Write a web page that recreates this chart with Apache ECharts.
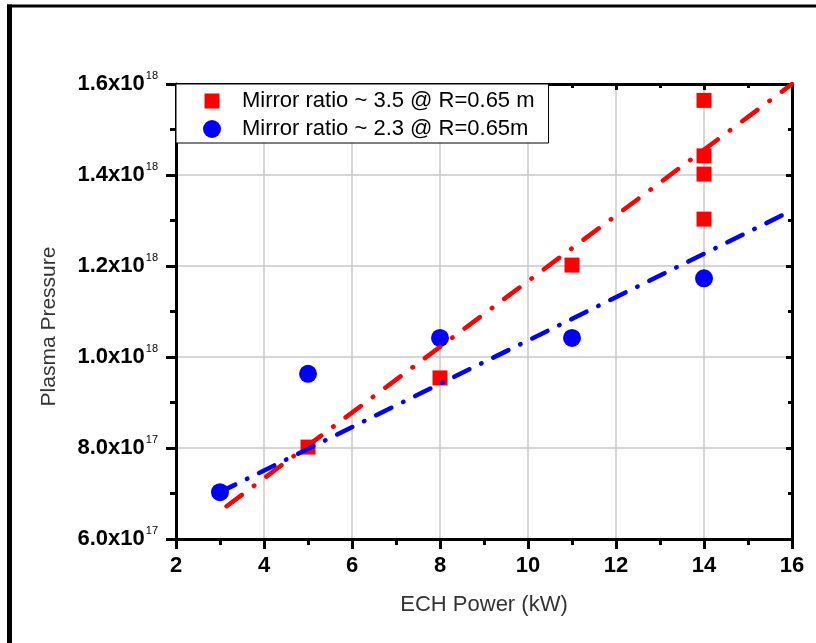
<!DOCTYPE html>
<html>
<head>
<meta charset="utf-8">
<title>Plasma Pressure vs ECH Power</title>
<script src="https://cdn.jsdelivr.net/npm/echarts@6.0.0/dist/echarts.min.js"></script>
<style>
  html, body { margin: 0; padding: 0; background: #fff; }
  #chart { width: 816px; height: 643px; }
</style>
</head>
<body>
<div id="chart"></div>
<script>
// measured points
var powerRed = [5, 8, 11, 14, 14, 14, 14];
var pressureRed = [0.802e18, 0.954e18, 1.202e18, 1.303e18, 1.402e18, 1.442e18, 1.564e18];
var powerBlue = [3, 5, 8, 11, 14];
var pressureBlue = [0.703e18, 0.963e18, 1.042e18, 1.042e18, 1.173e18];

// linear fits (end points as drawn)
var fitRedX = [3.15, 16];
var fitRedY = [0.672e18, 1.6e18];
var fitBlueX = [3, 16];
var fitBlueY = [0.703e18, 1.322e18];

var nameRed = 'Mirror ratio ~ 3.5 @ R=0.65 m';
var nameBlue = 'Mirror ratio ~ 2.3 @ R=0.65m';

var xTicks = { min: 2, max: 16, step: 2 };
var yTicks = { min: 6e17, max: 1.6e18, step: 2e17 };

var FONT = '"Liberation Sans", Arial, sans-serif';

function pairs(xs, ys) {
    var out = [];
    for (var i = 0; i < xs.length; i++) out.push([xs[i], ys[i]]);
    return out;
}

function sci(v) {
    var e = Math.floor(Math.log10(v) + 1e-9);
    var m = v / Math.pow(10, e);
    return '{b|' + m.toFixed(1) + 'x10}{s|' + e + '}';
}

var chart = echarts.init(document.getElementById('chart'));

var option = {
    backgroundColor: '#fff',
    animation: false,
    grid: { left: 176, right: 24, top: 84, bottom: 104 },
    legend: {
        orient: 'vertical',
        left: 176,
        top: 84,
        padding: [6, 14, 3, 27],
        itemGap: 6,
        itemWidth: 50,
        itemHeight: 18,
        backgroundColor: '#fff',
        borderColor: '#000',
        borderWidth: 1,
        z: 5,
        textStyle: { fontFamily: FONT, fontSize: 22, color: '#000' },
        data: [
            { name: nameRed, icon: 'path://M0,0L0,0ZM1.5,1.5L16.5,1.5L16.5,16.5L1.5,16.5ZM18,18L18,18Z' },
            { name: nameBlue, icon: 'circle' }
        ]
    },
    xAxis: [{
        type: 'value',
        position: 'bottom',
        min: xTicks.min, max: xTicks.max, interval: xTicks.step,
        name: 'ECH Power (kW)',
        nameLocation: 'middle',
        nameGap: 55,
        nameTextStyle: { fontFamily: FONT, fontSize: 22, color: '#333' },
        axisLine: { onZero: false, lineStyle: { color: '#000', width: 3 } },
        axisTick: { inside: false, length: 10, lineStyle: { color: '#000', width: 3 } },
        minorTick: { show: true, splitNumber: 2, length: 6, lineStyle: { color: '#000', width: 3 } },
        axisLabel: { margin: 16, fontFamily: FONT, fontSize: 22, fontWeight: 'bold', color: '#000' },
        splitLine: { show: true, lineStyle: { color: '#c8c8c8', width: 1.5 } }
    }, {
        type: 'value',
        position: 'top',
        min: xTicks.min, max: xTicks.max, interval: xTicks.step,
        axisLine: { onZero: false, lineStyle: { color: '#000', width: 3 } },
        axisTick: { inside: true, length: 6, lineStyle: { color: '#000', width: 3 } },
        minorTick: { show: true, splitNumber: 2, length: 4, lineStyle: { color: '#000', width: 3 } },
        axisLabel: { show: false },
        splitLine: { show: false }
    }],
    yAxis: [{
        type: 'value',
        position: 'left',
        min: yTicks.min, max: yTicks.max, interval: yTicks.step,
        name: 'Plasma Pressure',
        nameLocation: 'middle',
        nameGap: 116,
        nameTextStyle: { fontFamily: FONT, fontSize: 21, color: '#333', padding: [0, 30, 0, 0] },
        axisLine: { onZero: false, lineStyle: { color: '#000', width: 3 } },
        axisTick: { inside: false, length: 10, lineStyle: { color: '#000', width: 3 } },
        minorTick: { show: true, splitNumber: 2, length: 6, lineStyle: { color: '#000', width: 3 } },
        axisLabel: {
            margin: 18,
            formatter: sci,
            rich: {
                b: { fontFamily: FONT, fontSize: 22, fontWeight: 'bold', color: '#000', lineHeight: 22 },
                s: { fontFamily: FONT, fontSize: 11, color: '#000', lineHeight: 11, padding: [0, 0, 17, 1] }
            }
        },
        splitLine: { show: true, lineStyle: { color: '#c8c8c8', width: 1.5 } }
    }, {
        type: 'value',
        position: 'right',
        min: yTicks.min, max: yTicks.max, interval: yTicks.step,
        axisLine: { onZero: false, lineStyle: { color: '#000', width: 3 } },
        axisTick: { inside: true, length: 6, lineStyle: { color: '#000', width: 3 } },
        minorTick: { show: true, splitNumber: 2, length: 4, lineStyle: { color: '#000', width: 3 } },
        axisLabel: { show: false },
        splitLine: { show: false }
    }],
    series: [{
        name: nameRed,
        type: 'scatter',
        symbol: 'rect',
        symbolSize: 15,
        itemStyle: { color: '#ff0000', opacity: 1 },
        data: pairs(powerRed, pressureRed),
        z: 3
    }, {
        name: nameBlue,
        type: 'scatter',
        symbol: 'circle',
        symbolSize: 18,
        itemStyle: { color: '#0000ff', opacity: 1 },
        data: pairs(powerBlue, pressureBlue),
        z: 3
    }, {
        name: 'fit-red',
        type: 'line',
        showSymbol: false,
        symbol: 'none',
        lineStyle: { color: '#ff0000', width: 4.5, type: [19, 15, 0.5, 15], cap: 'round' },
        data: pairs(fitRedX, fitRedY),
        z: 4
    }, {
        name: 'fit-blue',
        type: 'line',
        showSymbol: false,
        symbol: 'none',
        lineStyle: { color: '#0000ff', width: 4.5, type: [17, 13, 0.5, 13], cap: 'round' },
        data: pairs(fitBlueX, fitBlueY),
        z: 4
    }],
    // outer frame of the figure
    graphic: [{
        type: 'line',
        shape: { x1: 9.5, y1: 4.5, x2: 9.5, y2: 643 },
        style: { stroke: '#000', lineWidth: 5 }
    }, {
        type: 'line',
        shape: { x1: 7, y1: 6, x2: 816, y2: 6 },
        style: { stroke: '#000', lineWidth: 3 }
    }]
};

chart.setOption(option);
</script>
</body>
</html>
